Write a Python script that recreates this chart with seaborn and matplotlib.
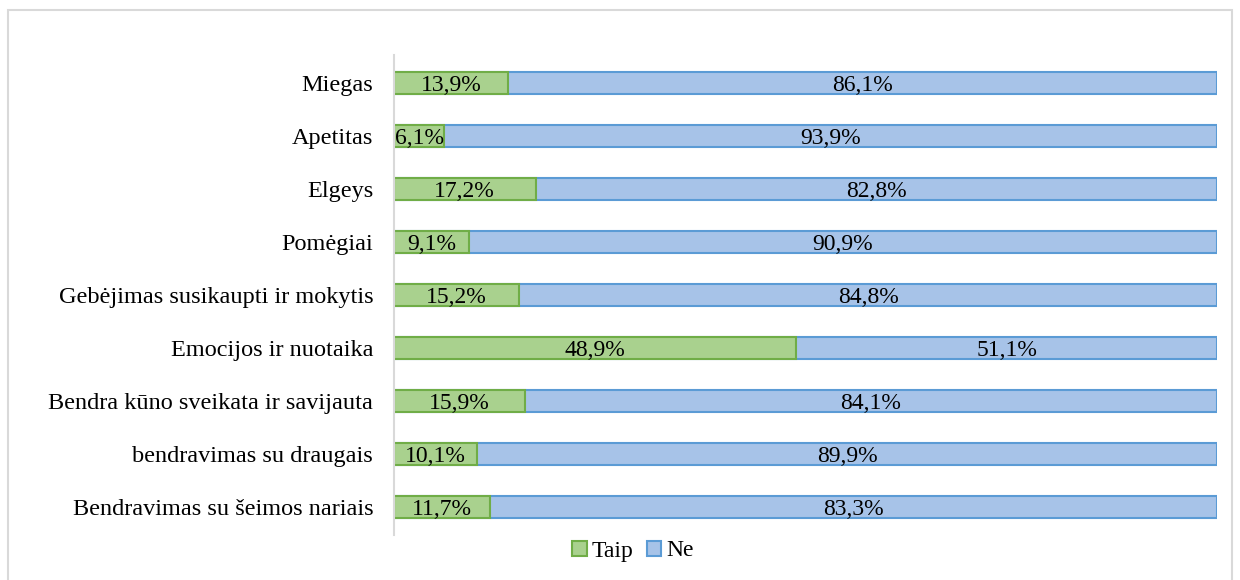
import matplotlib
matplotlib.use("Agg")
import matplotlib.pyplot as plt
import seaborn as sns
import numpy as np
import pandas as pd
from matplotlib.patches import Rectangle, Patch

categories = ["Miegas", "Apetitas", "Elgeys", "Pomėgiai",
              "Gebėjimas susikaupti ir mokytis", "Emocijos ir nuotaika",
              "Bendra kūno sveikata ir savijauta", "bendravimas su draugais",
              "Bendravimas su šeimos nariais"]
taip = [13.9, 6.1, 17.2, 9.1, 15.2, 48.9, 15.9, 10.1, 11.7]
ne = [86.1, 93.9, 82.8, 90.9, 84.8, 51.1, 84.1, 89.9, 88.3]
taip_labels = ["13,9%", "6,1%", "17,2%", "9,1%", "15,2%", "48,9%", "15,9%", "10,1%", "11,7%"]
ne_labels = ["86,1%", "93,9%", "82,8%", "90,9%", "84,8%", "51,1%", "84,1%", "89,9%", "83,3%"]
series = ["Taip", "Ne"]

green_fill = "#a9d18e"
green_edge = "#70ad47"
blue_fill = "#a7c3e8"
blue_edge = "#5b9bd5"

sns.set_theme(style="white")
plt.rcParams["font.family"] = ["Liberation Serif", "DejaVu Serif"]

fig = plt.figure(figsize=(12.4, 5.8), dpi=100)
ax = fig.add_axes([394/1240, 1-535/580, (1217-394)/1240, 480/580])

df = pd.DataFrame({"cat": categories, "taip": taip, "ne": ne})
df["total"] = df["taip"] + df["ne"]

sns.barplot(data=df, x="total", y="cat", orient="h", color=blue_fill,
            saturation=1, width=0.42, edgecolor=blue_edge, linewidth=1.5, ax=ax)
sns.barplot(data=df, x="taip", y="cat", orient="h", color=green_fill,
            saturation=1, width=0.42, edgecolor=green_edge, linewidth=1.5, ax=ax)

fs = 17
for i, (t, n) in enumerate(zip(taip, ne)):
    ax.text(t/2, i, taip_labels[i], ha="center", va="center_baseline", fontsize=fs, color="black")
    ax.text(t + n/2, i, ne_labels[i], ha="center", va="center_baseline", fontsize=fs, color="black")

ax.set_xlim(0, 100)
ax.set_ylim(len(categories) - 0.47, -0.53)
ax.set_xlabel("")
ax.set_ylabel("")
ax.set_xticks([])
ax.tick_params(axis="y", length=0, labelsize=17.5, labelcolor="black", pad=15)
for s in ["top", "right", "bottom"]:
    ax.spines[s].set_visible(False)
ax.spines["left"].set_color("#d9d9d9")
ax.spines["left"].set_linewidth(1.5)

handles = [Patch(facecolor=green_fill, edgecolor=green_edge, linewidth=1.5, label=series[0]),
           Patch(facecolor=blue_fill, edgecolor=blue_edge, linewidth=1.5, label=series[1])]
leg = fig.legend(handles=handles, loc="center", bbox_to_anchor=(633/1240, 1-551/580),
                 ncol=2, frameon=False, fontsize=fs, handlelength=0.6, handleheight=0.6,
                 handletextpad=0.2, columnspacing=0.6)
for t in leg.get_texts():
    t.set_color("black")

fig.patches.append(Rectangle((8/1240, -0.05), (1232-8)/1240, 1.05 - 10/580,
                             transform=fig.transFigure, fill=False,
                             edgecolor="#d9d9d9", linewidth=1.5, zorder=-1))

fig.savefig("out.png", dpi=100)
